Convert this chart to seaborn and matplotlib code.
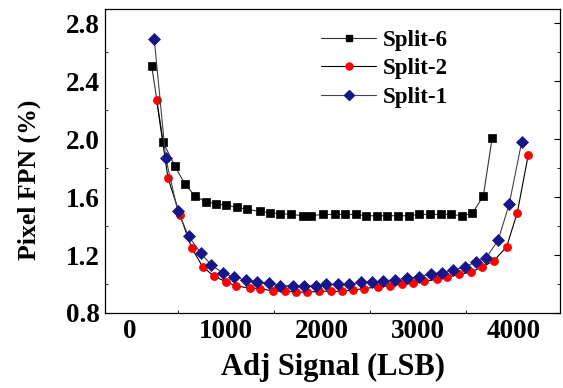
import numpy as np
import pandas as pd
import matplotlib
matplotlib.use("Agg")
import matplotlib.pyplot as plt
import seaborn as sns
from matplotlib.ticker import MultipleLocator
from matplotlib.lines import Line2D

# ---- data ----
split6_x = [226, 347, 465, 570, 681, 788, 899, 1000, 1115, 1222, 1351, 1458, 1563, 1681, 1799, 1885,
            2007, 2132, 2243, 2354, 2458, 2569, 2680, 2795, 2906, 3014, 3125, 3236, 3344, 3455, 3566, 3681, 3774]
split6_y = [2.505, 1.977, 1.816, 1.692, 1.605, 1.568, 1.552, 1.545, 1.529, 1.515, 1.501, 1.492, 1.485, 1.480,
            1.471, 1.471, 1.480, 1.480, 1.480, 1.480, 1.471, 1.471, 1.471, 1.471, 1.471, 1.480, 1.480, 1.480,
            1.480, 1.471, 1.487, 1.607, 2.010]

split2_x = [278, 396, 521, 642, 757, 875, 1003, 1107, 1250, 1354, 1486, 1615, 1732, 1847, 1969, 2090, 2211,
            2326, 2441, 2580, 2708, 2830, 2948, 3063, 3194, 3305, 3430, 3555, 3670, 3792, 3924, 4035, 4149]
split2_y = [2.267, 1.731, 1.476, 1.250, 1.119, 1.055, 1.014, 0.986, 0.972, 0.968, 0.952, 0.950, 0.945, 0.943,
            0.950, 0.950, 0.950, 0.959, 0.968, 0.981, 0.988, 0.998, 1.005, 1.018, 1.032, 1.046, 1.067, 1.083,
            1.117, 1.161, 1.257, 1.492, 1.890]

split1_x = [253, 372, 497, 611, 740, 847, 969, 1083, 1205, 1326, 1448, 1566, 1701, 1809, 1934, 2045, 2170,
            2285, 2406, 2524, 2639, 2764, 2889, 3010, 3132, 3247, 3368, 3490, 3601, 3712, 3836, 3951, 4080]
split1_y = [2.690, 1.871, 1.506, 1.329, 1.212, 1.131, 1.076, 1.048, 1.028, 1.012, 1.005, 0.988, 0.988, 0.988,
            0.988, 0.998, 0.998, 0.998, 1.012, 1.014, 1.021, 1.030, 1.039, 1.050, 1.069, 1.078, 1.097, 1.117,
            1.152, 1.181, 1.303, 1.552, 1.977]

labels = ["Split-6", "Split-2", "Split-1"]
x_ticks = [0, 1000, 2000, 3000, 4000]
y_ticks = [0.8, 1.2, 1.6, 2.0, 2.4, 2.8]

sns.set_theme(style="white")
plt.rcParams['font.family'] = ['Liberation Serif', 'DejaVu Serif']
plt.rcParams['font.weight'] = 'bold'
plt.rcParams['text.color'] = 'black'
plt.rcParams['axes.labelcolor'] = 'black'
plt.rcParams['xtick.color'] = 'black'
plt.rcParams['ytick.color'] = 'black'

W, H = 563, 388
fig = plt.figure(figsize=(W / 100, H / 100), dpi=100)
ax = fig.add_axes([105 / W, 1 - 313 / H, (560 - 105) / W, (313 - 9) / H])

styles = [
    dict(marker="s", mfc="black", mec="black", ms=5.8, lc="#333333"),
    dict(marker="o", mfc="red", mec="red", ms=5.8, lc="black"),
    dict(marker="D", mfc="#16168a", mec="#16168a", ms=5.8, lc="#444444"),
]
series = [(split6_x, split6_y), (split2_x, split2_y), (split1_x, split1_y)]

handles = []
for (xs, ys), lab, st in zip(series, labels, styles):
    df = pd.DataFrame({"x": xs, "y": ys})
    sns.lineplot(data=df, x="x", y="y", ax=ax, color=st["lc"], linewidth=0.8,
                 marker=st["marker"], markersize=st["ms"], markerfacecolor=st["mfc"],
                 markeredgecolor=st["mec"], markeredgewidth=0.5, sort=False, estimator=None)
    handles.append(Line2D([0], [0], color=st["lc"], linewidth=0.8, marker=st["marker"],
                          markersize=5.0, markerfacecolor=st["mfc"], markeredgecolor=st["mec"]))

ax.set_xlim(-260, 4480)
ax.set_ylim(0.8, 2.897)
ax.set_xticks(x_ticks)
ax.set_yticks(y_ticks)
ax.set_yticklabels([f"{v:.1f}" for v in y_ticks])
ax.xaxis.set_minor_locator(MultipleLocator(500))
ax.yaxis.set_minor_locator(MultipleLocator(0.2))
ax.tick_params(axis="both", which="major", direction="in", length=4, width=0.8,
               labelsize=19.5, right=True, top=False, pad=4, colors="black")
ax.tick_params(axis="both", which="minor", direction="in", length=2, width=0.6,
               right=True, top=False, left=True, bottom=True, colors="black")
for lab in ax.get_xticklabels() + ax.get_yticklabels():
    lab.set_fontweight("bold")
for sp in ax.spines.values():
    sp.set_color("black")
    sp.set_linewidth(0.9)

ax.set_xlabel("Adj Signal (LSB)", fontsize=22, fontweight="bold", color="black")
ax.set_ylabel("Pixel FPN (%)", fontsize=18.5, fontweight="bold", color="black")
ax.xaxis.set_label_coords((333 - 105) / 455, (313 - 367) / 304)
ax.xaxis.label.set_va("center")
ax.yaxis.set_label_coords((29 - 105) / 455, (313 - 180) / 304)
ax.yaxis.label.set_va("center")

leg = ax.legend(handles, labels, loc="upper left", bbox_to_anchor=(321 / W, 1 - 30 / H),
                bbox_transform=fig.transFigure, frameon=False,
                prop=dict(family="Liberation Serif", weight="bold", size=16.5),
                handlelength=2.4, handletextpad=0.3, labelspacing=0.32,
                borderpad=0, borderaxespad=0)
for t in leg.get_texts():
    t.set_color("black")

fig.savefig("out.png", dpi=100)
